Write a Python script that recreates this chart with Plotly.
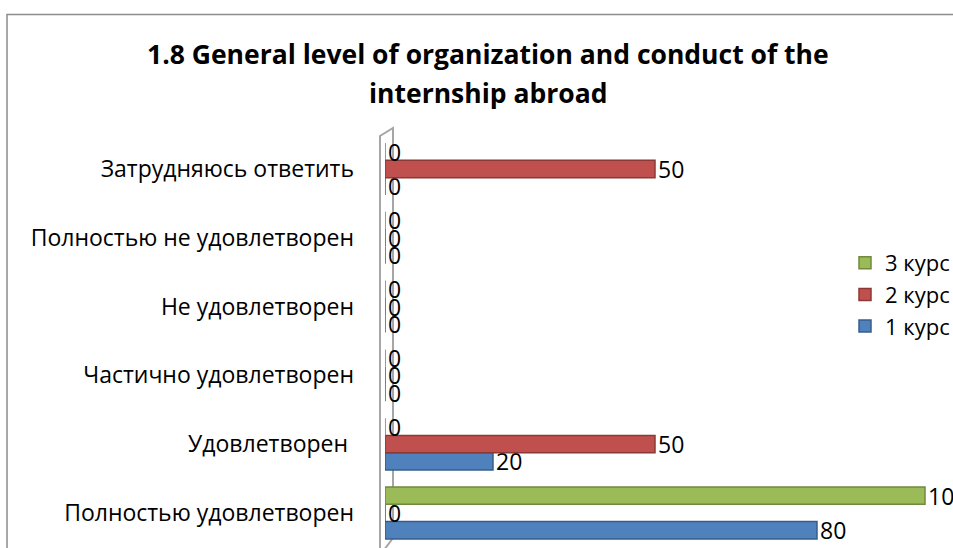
import plotly.graph_objects as go

categories = ["Полностью удовлетворен", "Удовлетворен\u00a0", "Частично удовлетворен",
              "Не удовлетворен", "Полностью не удовлетворен", "Затрудняюсь ответить"]
course1 = [80, 20, 0, 0, 0, 0]
course2 = [0, 50, 0, 0, 0, 50]
course3 = [100, 0, 0, 0, 0, 0]
series_names = ["1 курс", "2 курс", "3 курс"]
title_lines = ["1.8 General level of organization and conduct of the", "internship abroad"]

colors = ["#4F81BD", "#C0504D", "#9BBB59"]
edges = ["#385D8A", "#8C3836", "#71893F"]

W, H = 953, 548
L, T = 385, 137
PW, PH = W - L, H - T

def px(x):
    return (x - L) / PW

def py(y):
    return (H - y) / PH

font = "Open Sans"
fig = go.Figure()
for name, vals, c, e in zip(series_names, [course1, course2, course3], colors, edges):
    fig.add_trace(go.Bar(
        y=categories, x=vals, name=name, orientation="h",
        marker=dict(color=c, line=dict(color=e, width=1.5)),
        text=[str(v) for v in vals], textposition="outside", constraintext="none",
        textfont=dict(family=font, size=23, color="#000"),
        cliponaxis=False,
    ))

fig.update_layout(
    width=W, height=H,
    margin=dict(l=L, r=0, t=T, b=0, autoexpand=False),
    paper_bgcolor="white", plot_bgcolor="white",
    barmode="group", bargap=0.245, bargroupgap=0,
    font=dict(family=font, size=23, color="#000"),
    xaxis=dict(range=[0, PW / 5.4], visible=False, fixedrange=True),
    yaxis=dict(range=[-0.51, 5.465], showgrid=False, zeroline=False, showline=False,
               ticks="", ticklabelstandoff=30, automargin=False,
               tickfont=dict(family=font, size=23, color="#000")),
    legend=dict(x=px(845), y=py(242), xanchor="left", yanchor="top",
                traceorder="reversed", font=dict(family=font, size=22, color="#000"),
                bgcolor="rgba(0,0,0,0)", itemwidth=30, tracegroupgap=0),
    showlegend=True,
)

for i, line in enumerate(title_lines):
    fig.add_annotation(x=px(488), y=py(54 + 39 * i), xref="paper", yref="paper",
                       text=f"<b>{line}</b>", showarrow=False, xanchor="center", yanchor="middle",
                       font=dict(family=font, size=26.5, color="#000"))

# chart frame
fig.add_shape(type="rect", xref="paper", yref="paper",
              x0=px(7), x1=px(W + 20), y0=py(H + 20), y1=py(14.5),
              line=dict(color="#8C8C8C", width=1.5), fillcolor="rgba(0,0,0,0)", layer="below")
# 3D wall
wall = (f"M {px(380)},{py(H + 5)} L {px(380)},{py(136)} L {px(393)},{py(128)} "
        f"L {px(393)},{py(538)} L {px(384)},{py(H + 2)}")
fig.add_shape(type="path", xref="paper", yref="paper", path=wall,
              line=dict(color="#A6A6A6", width=2), layer="below")

fig.write_html("out.html", config={"displayModeBar": False},
               post_script="document.body.style.margin='0';document.body.style.overflow='hidden';")
